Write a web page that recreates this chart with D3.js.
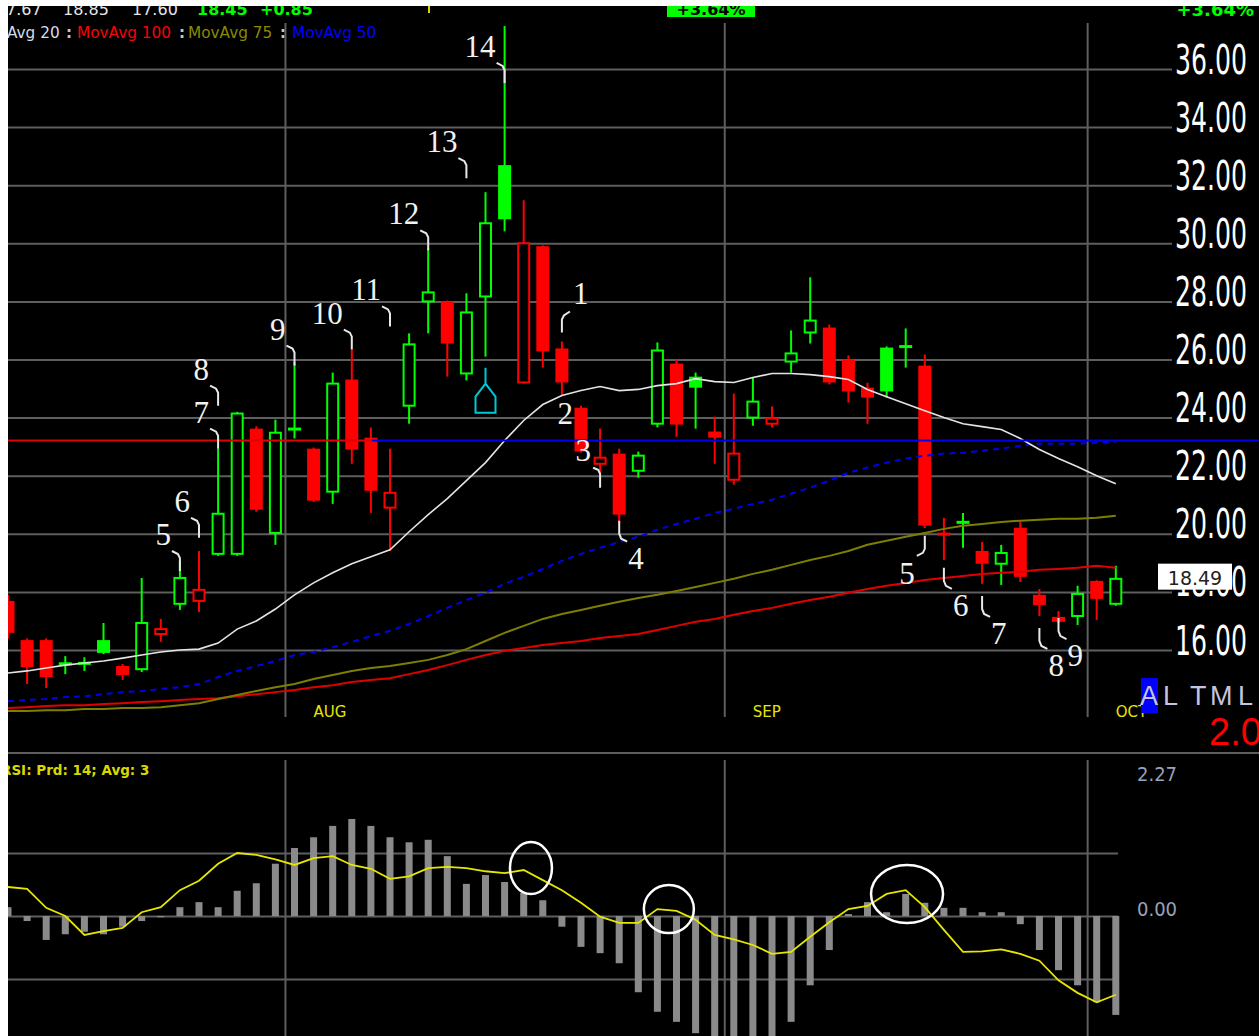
<!DOCTYPE html>
<html><head><meta charset="utf-8">
<script src="https://cdn.jsdelivr.net/npm/d3@7/dist/d3.min.js"></script>
<style>body{margin:0;background:#fff}svg{display:block}</style>
</head><body>
<svg id="c" width="1259" height="1036"></svg>
<script>
// ---------- DATA ----------
const opens  = [17.69,16.34,16.34,15.50,15.52,16.34,15.45,15.34,16.55,17.59,17.69,19.31,19.31,23.62,20.03,23.55,22.93,21.45,25.31,23.31,20.90,24.41,28.00,28.00,25.52,28.17,32.69,25.21,29.90,26.38,24.34,22.41,22.76,22.17,23.79,25.86,25.41,23.52,21.86,24.00,23.79,25.93,26.93,27.10,26.00,25.03,26.41,26.41,25.79,20.02,20.38,19.41,18.97,20.21,17.90,17.14,17.17,18.38,17.59];
const highs  = [17.90,16.40,16.40,15.79,15.75,16.93,15.52,18.48,17.07,19.07,19.41,22.93,24.20,23.70,23.93,25.90,22.97,25.55,26.34,23.66,22.93,26.90,29.83,28.03,28.28,31.76,37.48,31.48,29.93,26.62,24.41,23.62,22.93,22.83,26.59,26.00,25.55,24.03,24.83,25.38,24.38,27.00,28.83,27.20,26.14,25.20,26.45,27.07,26.17,20.55,20.72,19.72,19.62,20.41,18.10,17.34,18.21,18.40,18.90];
const lows   = [16.40,14.83,14.69,15.17,15.28,15.86,14.97,15.24,16.28,17.38,17.31,19.24,19.24,20.76,19.62,23.28,21.10,21.03,22.41,20.72,19.41,23.79,26.90,25.41,25.28,26.10,30.41,25.17,25.72,24.76,22.80,22.10,20.34,21.93,23.66,23.34,23.62,22.41,21.69,23.72,23.66,25.55,26.55,25.14,24.52,23.79,24.69,25.72,20.20,19.10,19.52,18.28,18.24,18.34,17.17,16.93,16.86,17.03,17.52];
const closes = [16.59,15.41,15.07,15.55,15.56,15.90,15.14,16.93,16.72,18.48,18.07,20.69,24.14,20.83,23.48,23.66,21.14,25.17,22.90,21.48,21.41,26.52,28.31,26.55,27.62,30.69,30.83,30.00,26.28,25.21,22.83,22.62,20.66,22.69,26.31,23.76,25.03,23.31,22.76,24.55,23.97,26.21,27.34,25.21,24.90,24.69,24.90,26.48,20.28,19.96,20.41,18.97,19.34,18.52,17.55,16.97,17.93,17.76,18.45];

const ma20  = [15.21,15.28,15.38,15.48,15.55,15.62,15.72,15.83,15.93,16.00,16.03,16.24,16.72,17.00,17.41,17.90,18.31,18.66,18.97,19.21,19.45,20.07,20.66,21.21,21.83,22.45,23.21,23.90,24.45,24.76,24.93,25.07,24.93,24.97,25.10,25.17,25.34,25.24,25.21,25.38,25.52,25.52,25.48,25.41,25.31,24.97,24.72,24.48,24.24,24.00,23.79,23.69,23.59,23.28,22.90,22.59,22.31,22.00,21.72];
const ma50  = [14.24,14.28,14.31,14.38,14.41,14.48,14.55,14.59,14.66,14.72,14.83,15.07,15.28,15.45,15.62,15.83,15.93,16.10,16.28,16.48,16.66,16.90,17.17,17.45,17.72,17.97,18.28,18.52,18.79,19.07,19.31,19.52,19.72,19.90,20.14,20.34,20.52,20.72,20.86,21.03,21.17,21.38,21.59,21.83,22.10,22.28,22.45,22.59,22.69,22.76,22.79,22.86,22.93,23.03,23.10,23.10,23.10,23.14,23.17];
const ma75  = [13.90,13.90,13.93,13.93,13.97,13.97,14.00,14.00,14.03,14.10,14.17,14.31,14.45,14.59,14.72,14.83,15.00,15.14,15.28,15.38,15.45,15.55,15.66,15.83,16.03,16.31,16.59,16.83,17.07,17.24,17.38,17.52,17.66,17.79,17.90,18.03,18.17,18.31,18.45,18.62,18.76,18.93,19.10,19.24,19.41,19.62,19.76,19.90,20.03,20.17,20.28,20.34,20.41,20.45,20.48,20.52,20.52,20.55,20.62];
const ma100 = [14.00,14.03,14.07,14.10,14.10,14.14,14.17,14.21,14.24,14.28,14.31,14.34,14.41,14.48,14.55,14.62,14.72,14.79,14.90,14.97,15.03,15.17,15.31,15.48,15.66,15.83,15.97,16.07,16.17,16.24,16.31,16.41,16.48,16.55,16.69,16.83,16.97,17.07,17.21,17.34,17.45,17.59,17.72,17.83,17.97,18.10,18.21,18.31,18.41,18.48,18.55,18.62,18.66,18.69,18.76,18.79,18.83,18.90,18.83];

const rsiBars = [0.14,-0.08,-0.38,-0.29,-0.25,-0.29,-0.17,-0.08,-0.02,0.14,0.22,0.14,0.40,0.52,0.83,1.08,1.25,1.43,1.54,1.43,1.25,1.17,1.21,0.95,0.51,0.65,0.54,0.37,0.25,-0.17,-0.49,-0.59,-0.75,-1.21,-1.52,-1.68,-1.86,-2.05,-2.10,-2.05,-2.00,-1.68,-1.10,-0.54,0.03,0.22,0.06,0.35,0.21,0.13,0.13,0.06,0.06,-0.13,-0.54,-0.86,-1.10,-1.37,-1.57];
const rsiAvg  = [0.46,0.43,0.13,0.00,-0.30,-0.24,-0.19,0.06,0.14,0.41,0.56,0.83,1.00,0.97,0.90,0.81,0.92,0.95,0.81,0.75,0.59,0.63,0.76,0.78,0.76,0.71,0.68,0.73,0.57,0.41,0.21,-0.01,-0.11,-0.11,0.11,0.08,-0.06,-0.30,-0.37,-0.46,-0.60,-0.57,-0.33,-0.10,0.11,0.16,0.35,0.41,0.14,-0.22,-0.57,-0.56,-0.53,-0.60,-0.71,-1.02,-1.22,-1.37,-1.25];

const priceTicks  = [16,18,20,22,24,26,28,30,32,34,36];
const rsiGrid     = [-1,0,1];
const rsiTicks    = [0,2.27];
const monthLabels = ["AUG","SEP","OCT"];
const monthStarts = [15,38,57];

const waveText  = ["5","6","7","8","9","10","11","12","13","14","1","2","3","4","5","6","7","8","9"];
const waveIdx   = [9,10,11,11,15,18,20,22,24,26,29,29.58,31,32,48,49,51,54,55];
const wavePrice = [18.72,19.86,22.93,24.41,25.79,26.34,27.14,29.76,32.24,35.52,26.93,23.79,22.10,20.45,19.93,18.83,17.86,16.76,17.10];
const waveKind  = ["ul","ul","ul","ul","ul","ul","ul","ul","ul","ul","ur","txt","hook","dr","dl","dr","dr","dr","dr"];

const markIdx = [25], markPrice = [25.72];
const circleIdx = [27.38,34.6,47.07], circleVal = [0.76,0.11,0.35];

const levelPrice = 23.21, levelSplit = 19.06;
const lastPrice = 18.49;
const headerPlain = ["7.67","18.85","17.60"];
const headerGreen = ["18.45","+0.85"];
const pctChange = "+3.64%";
const legendNames = ["Avg 20","MovAvg 100","MovAvg 75","MovAvg 50"];
const rsiTitle = "RSI: Prd: 14; Avg: 3";
const sideLetters = ["A","L","T","M","L"];
const sideValue = "2.0";

// ---------- DRAW ----------
const svg = d3.select("#c");
const W = 1259, H = 1036;
const GREEN = "#00ff00", RED = "#ff0000", GRID = "#5e5e5e";
const x = d3.scaleLinear().domain([0, 58]).range([8, 1115.8]);
const y = d3.scaleLinear().domain([16, 36]).range([650, 69]);
const ry = d3.scaleLinear().domain([-1, 1]).range([979, 853]);

svg.append("rect").attr("width", W).attr("height", H).attr("fill", "#000");

// header row
const hdrX = [6, 63, 132];
headerPlain.forEach((t, k) => svg.append("text").attr("x", hdrX[k]).attr("y", 15).text(t)
  .attr("font-family", "DejaVu Sans").attr("font-size", 16).attr("fill", "#e6e6e6"));
const hdrGX = [197, 260];
headerGreen.forEach((t, k) => svg.append("text").attr("x", hdrGX[k]).attr("y", 15).text(t)
  .attr("font-family", "DejaVu Sans").attr("font-weight", "bold").attr("font-size", 16).attr("fill", GREEN));
svg.append("line").attr("x1", 429).attr("x2", 429).attr("y1", 0).attr("y2", 13).attr("stroke", "#d8d800").attr("stroke-width", 2);
svg.append("rect").attr("x", 667).attr("y", 0).attr("width", 88).attr("height", 17).attr("fill", GREEN);
svg.append("text").attr("x", 711).attr("y", 15).attr("text-anchor", "middle").text(pctChange)
  .attr("font-family", "DejaVu Sans").attr("font-weight", "bold").attr("font-size", 16).attr("fill", "#000");
svg.append("text").attr("x", 1254).attr("y", 16).attr("text-anchor", "end").text(pctChange)
  .attr("font-family", "DejaVu Sans").attr("font-weight", "bold").attr("font-size", 18).attr("fill", GREEN);

// legend row
const legX = [7, 77, 188, 292], legC = ["#d4dcec", "#ff0000", "#8a8a00", "#0000ff"];
legendNames.forEach((t, k) => svg.append("text").attr("x", legX[k]).attr("y", 38).text(t)
  .attr("font-family", "DejaVu Sans").attr("font-size", 15.3).attr("fill", legC[k]));
[66, 179, 280].forEach(px => svg.append("text").attr("x", px).attr("y", 38).text(":")
  .attr("font-family", "DejaVu Sans").attr("font-weight", "bold").attr("font-size", 15).attr("fill", "#c8c8c8"));

// price grid + labels (narrow font, stretched vertically)
svg.append("g").attr("transform", "translate(1172,0)")
  .call(d3.axisRight(y).tickValues(priceTicks).tickFormat(d3.format(".2f")).tickSize(-1164).tickPadding(3))
  .call(g => g.select(".domain").remove())
  .call(g => g.selectAll(".tick line").attr("stroke", GRID).attr("stroke-width", 2))
  .call(g => g.selectAll(".tick text").attr("fill", "#fff").attr("x", 0).attr("dy", null).attr("y", 0)
    .attr("transform", "translate(3,4) scale(1,1.43)")
    .attr("font-family", "'Liberation Sans Narrow','DejaVu Sans Condensed',sans-serif").attr("font-size", 28)
    .attr("textLength", 72).attr("lengthAdjust", "spacingAndGlyphs").attr("text-anchor", "start"));

// month grid + labels
svg.append("g").attr("transform", "translate(0,717)")
  .call(d3.axisBottom(x).tickValues(monthStarts.map(d => d - 0.5)).tickFormat((d, k) => monthLabels[k]).tickSize(-694))
  .call(g => g.select(".domain").remove())
  .call(g => g.selectAll(".tick line").attr("stroke", GRID).attr("stroke-width", 2))
  .call(g => g.selectAll(".tick text").attr("fill", "#e6e600").attr("x", 28).attr("y", 0).attr("dy", null)
    .attr("text-anchor", "start").attr("font-family", "DejaVu Sans").attr("font-size", 15));

// candles
const candles = opens.map((o, i) => ({ i, o, h: highs[i], l: lows[i], c: closes[i], prev: i ? closes[i - 1] : o }));
const cg = svg.append("g");
candles.forEach(d => {
  const col = d.c >= d.prev ? GREEN : RED;
  const cx = x(d.i);
  const yTop = y(Math.max(d.o, d.c)), yBot = y(Math.min(d.o, d.c));
  const cross = (yBot - yTop) < 4;
  const hollow = !cross && d.c > d.o;
  if (hollow) {
    cg.append("line").attr("x1", cx).attr("x2", cx).attr("y1", y(d.h)).attr("y2", yTop).attr("stroke", col).attr("stroke-width", 2);
    cg.append("line").attr("x1", cx).attr("x2", cx).attr("y1", yBot).attr("y2", y(d.l)).attr("stroke", col).attr("stroke-width", 2);
    cg.append("rect").attr("x", cx - 5.5).attr("y", yTop).attr("width", 11).attr("height", yBot - yTop)
      .attr("fill", "#000").attr("stroke", col).attr("stroke-width", 2);
  } else {
    cg.append("line").attr("x1", cx).attr("x2", cx).attr("y1", y(d.h)).attr("y2", y(d.l)).attr("stroke", col).attr("stroke-width", 2);
    if (cross) {
      const m = (yTop + yBot) / 2;
      cg.append("rect").attr("x", cx - 6.5).attr("y", m - 1.5).attr("width", 13).attr("height", 3).attr("fill", col);
    } else {
      cg.append("rect").attr("x", cx - 6.5).attr("y", yTop).attr("width", 13).attr("height", yBot - yTop).attr("fill", col);
    }
  }
});

// moving averages
const line = d3.line().x((d, i) => x(i)).y(d => y(d));
svg.append("path").attr("d", line(ma100)).attr("fill", "none").attr("stroke", "#e00000").attr("stroke-width", 2);
svg.append("path").attr("d", line(ma75)).attr("fill", "none").attr("stroke", "#7e7e00").attr("stroke-width", 2);
svg.append("path").attr("d", line(ma50)).attr("fill", "none").attr("stroke", "#0000f0").attr("stroke-width", 2).attr("stroke-dasharray", "6,5");
svg.append("path").attr("d", line(ma20)).attr("fill", "none").attr("stroke", "#e4e4e4").attr("stroke-width", 1.6);

// horizontal level line
svg.append("line").attr("x1", 8).attr("x2", x(levelSplit)).attr("y1", y(levelPrice)).attr("y2", y(levelPrice)).attr("stroke", "#e00000").attr("stroke-width", 2);
svg.append("line").attr("x1", x(levelSplit)).attr("x2", W).attr("y1", y(levelPrice)).attr("y2", y(levelPrice)).attr("stroke", "#0000e8").attr("stroke-width", 2);

// wave annotations
const ag = svg.append("g");
waveText.forEach((t, k) => {
  const X = x(waveIdx[k]), Y = y(wavePrice[k]), kind = waveKind[k];
  let p = null, tx, ty, anchor;
  if (kind === "ul") { p = `M${X},${Y}L${X},${Y-13}L${X-2},${Y-17}L${X-8},${Y-20}`; tx = X - 9; ty = Y - 26; anchor = "end"; }
  else if (kind === "ur") { p = `M${X},${Y}L${X},${Y-13}L${X+2},${Y-17}L${X+8},${Y-21}`; tx = X + 11; ty = Y - 28; anchor = "start"; }
  else if (kind === "hook") { p = `M${X-7},${Y-5}L${X-2},${Y-3}L${X},${Y+1}L${X},${Y+15}`; tx = X - 9; ty = Y - 12; anchor = "end"; }
  else if (kind === "dr") { p = `M${X},${Y}L${X},${Y+13}L${X+2},${Y+18}L${X+8},${Y+21}`; tx = X + 9; ty = Y + 48; anchor = "start"; }
  else if (kind === "dl") { p = `M${X},${Y}L${X},${Y+13}L${X-2},${Y+17}L${X-8},${Y+20}`; tx = X - 10; ty = Y + 48; anchor = "end"; }
  else { tx = X; ty = Y; anchor = "end"; }
  if (p) ag.append("path").attr("d", p).attr("fill", "none").attr("stroke", "#e8e8e8").attr("stroke-width", 2);
  ag.append("text").attr("x", tx).attr("y", ty).attr("text-anchor", anchor).text(t)
    .attr("font-family", "'Liberation Serif','DejaVu Serif',serif").attr("font-size", 31).attr("fill", "#f2f2f2");
});

// cyan marker
markIdx.forEach((mi, k) => {
  const X = x(mi), Y = y(markPrice[k]);
  svg.append("path").attr("d", `M${X},${Y}V${Y+16}L${X+10},${Y+29}V${Y+45}H${X-10}V${Y+29}L${X},${Y+16}`)
    .attr("fill", "none").attr("stroke", "#00c8d8").attr("stroke-width", 2);
});

// separator
svg.append("line").attr("x1", 0).attr("x2", W).attr("y1", 753).attr("y2", 753).attr("stroke", GRID).attr("stroke-width", 2);

// last price box
svg.append("rect").attr("x", 1158).attr("y", y(lastPrice) - 14).attr("width", 74).attr("height", 26).attr("fill", "#fff");
svg.append("text").attr("x", 1195).attr("y", y(lastPrice) + 7).attr("text-anchor", "middle").text(lastPrice.toFixed(2))
  .attr("font-family", "DejaVu Sans").attr("font-size", 19).attr("fill", "#222");

// side letters
svg.append("rect").attr("x", 1141).attr("y", 678).attr("width", 17).attr("height", 35).attr("fill", "#0000ff");
const sideX = [1140, 1163, 1190, 1210, 1238];
sideLetters.forEach((t, k) => svg.append("text").attr("x", sideX[k]).attr("y", 705).text(t)
  .attr("font-family", "'Liberation Sans',Arial,sans-serif").attr("font-size", 27).attr("fill", "#c4c4dc"));
svg.append("text").attr("x", 1209).attr("y", 745).text(sideValue)
  .attr("font-family", "'Liberation Sans',Arial,sans-serif").attr("font-size", 38).attr("fill", "#ff0000");

// ---------- RSI panel ----------
svg.append("g").attr("transform", "translate(1118,0)")
  .call(d3.axisRight(ry).tickValues(rsiGrid).tickFormat("").tickSize(-1110))
  .call(g => g.select(".domain").remove())
  .call(g => g.selectAll(".tick line").attr("stroke", GRID).attr("stroke-width", 2));
svg.append("g").attr("transform", "translate(0,1036)")
  .call(d3.axisBottom(x).tickValues(monthStarts.map(d => d - 0.5)).tickFormat("").tickSize(-276))
  .call(g => g.select(".domain").remove())
  .call(g => g.selectAll(".tick line").attr("stroke", GRID).attr("stroke-width", 2));

svg.append("g").selectAll("rect").data(rsiBars).join("rect")
  .attr("x", (d, i) => x(i) - 3.5).attr("width", 7)
  .attr("y", d => Math.min(ry(0), ry(d))).attr("height", d => Math.abs(ry(d) - ry(0)))
  .attr("fill", "#8a8a8a");

svg.append("path").attr("d", d3.line().x((d, i) => x(i)).y(d => ry(d))(rsiAvg))
  .attr("fill", "none").attr("stroke", "#e6e600").attr("stroke-width", 1.8);

svg.append("g").attr("transform", "translate(1137,0)")
  .call(d3.axisRight(ry).tickValues(rsiTicks).tickFormat(d3.format(".2f")).tickSize(0).tickPadding(0))
  .call(g => g.select(".domain").remove())
  .call(g => g.selectAll(".tick text").attr("fill", "#98a2b8").attr("x", 0)
    .attr("dy", d => d === 0 ? "-0.05em" : "0.38em")
    .attr("font-family", "'DejaVu Sans Condensed','DejaVu Sans',sans-serif").attr("font-size", 20).attr("text-anchor", "start"));

const circR = [[21, 26], [25, 24], [36, 29]];
circleIdx.forEach((ci, k) => svg.append("ellipse").attr("cx", x(ci)).attr("cy", ry(circleVal[k]))
  .attr("rx", circR[k][0]).attr("ry", circR[k][1]).attr("fill", "none").attr("stroke", "#fff").attr("stroke-width", 2.5));

svg.append("text").attr("x", 1).attr("y", 775).text(rsiTitle)
  .attr("font-family", "DejaVu Sans").attr("font-weight", "bold").attr("font-size", 13.5).attr("fill", "#d8d800");

// white margins
svg.append("rect").attr("x", 0).attr("y", 0).attr("width", W).attr("height", 6).attr("fill", "#fff");
svg.append("rect").attr("x", 0).attr("y", 0).attr("width", 8).attr("height", H).attr("fill", "#fff");
</script>
</body></html>
